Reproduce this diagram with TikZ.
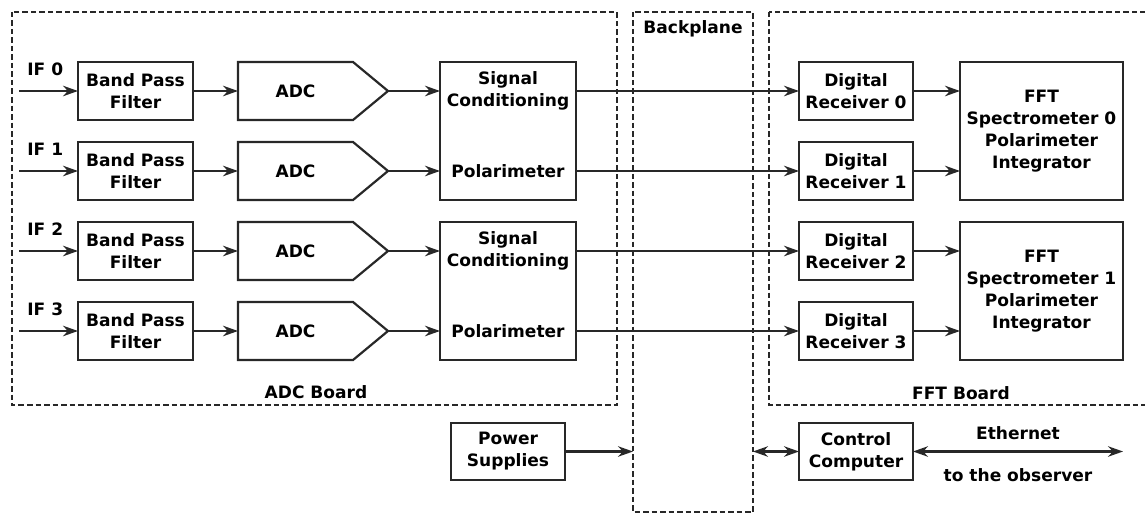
\documentclass[tikz,border=0pt]{standalone}
\usepackage{fontspec}
\setmainfont{DejaVu Sans}
\usepackage{tikz}
\usetikzlibrary{arrows.meta, positioning, calc}
\definecolor{linecol}{RGB}{40, 40, 40}

\begin{document}
\begin{tikzpicture}[
        node distance=0.44cm and 0.9cm,
        font=\bfseries\fontsize{9.7}{12.5}\selectfont,
        box/.style={rectangle, draw=linecol, line width=1.25pt, align=center, minimum height=1.16cm, minimum width=2.3cm, inner sep=1pt, outer sep=0pt},
        bigbox/.style={box, minimum height=2.76cm},
        adcbody/.style={rectangle, align=center, minimum height=1.16cm, minimum width=2.3cm, inner sep=0pt, outer sep=0pt},
        adcline/.style={draw=linecol, line width=1.25pt, line join=miter},
        board/.style={draw=linecol, line width=1.25pt, dash pattern=on 1.1mm off 0.6mm},
        arrow/.style={-{Stealth[length=3mm, width=2.1mm]}, line width=1.25pt, draw=linecol},
        twoway/.style={{Stealth[length=3mm, width=2.1mm]}-{Stealth[length=3mm, width=2.1mm]}, line width=1.25pt, draw=linecol}
    ]
    \useasboundingbox (0,0) rectangle (22.9,-10.28);

    % Boards and backplane
    \draw[board] (0.24,-0.24) rectangle (12.34,-8.1);
    \draw[board] (12.66,-0.24) rectangle (15.06,-10.24);
    \draw[board] (15.38,-0.24) rectangle (23.1,-8.1);
    \node (adcboard) at (6.32,-7.84) {ADC Board};
    \node (backplane) at (13.86,-0.58) {Backplane};
    \node (fftboard) at (19.22,-7.86) {FFT Board};

    % Band pass filters
    \node[box] (bpf0) at (2.71,-1.82) {Band Pass\\Filter};
    \node[box, below=of bpf0] (bpf1) {Band Pass\\Filter};
    \node[box, below=of bpf1] (bpf2) {Band Pass\\Filter};
    \node[box, below=of bpf2] (bpf3) {Band Pass\\Filter};

    % IF inputs
    \coordinate (in0) at ([xshift=-1.18cm]bpf0.west);
    \coordinate (in1) at ([xshift=-1.18cm]bpf1.west);
    \coordinate (in2) at ([xshift=-1.18cm]bpf2.west);
    \coordinate (in3) at ([xshift=-1.18cm]bpf3.west);
    \node[anchor=south west, inner sep=0pt] (if0) at ([shift={(0.16,0.3)}]in0) {IF 0};
    \node[anchor=south west, inner sep=0pt] (if1) at ([shift={(0.16,0.3)}]in1) {IF 1};
    \node[anchor=south west, inner sep=0pt] (if2) at ([shift={(0.16,0.3)}]in2) {IF 2};
    \node[anchor=south west, inner sep=0pt] (if3) at ([shift={(0.16,0.3)}]in3) {IF 3};

    % ADCs
    \node[adcbody, right=of bpf0] (adc0) {ADC};
    \node[adcbody, right=of bpf1] (adc1) {ADC};
    \node[adcbody, right=of bpf2] (adc2) {ADC};
    \node[adcbody, right=of bpf3] (adc3) {ADC};
    \draw[adcline] (adc0.north west) -- (adc0.north east) -- ([xshift=0.7cm]adc0.east) coordinate (adc0tip) -- (adc0.south east) -- (adc0.south west) -- cycle;
    \draw[adcline] (adc1.north west) -- (adc1.north east) -- ([xshift=0.7cm]adc1.east) coordinate (adc1tip) -- (adc1.south east) -- (adc1.south west) -- cycle;
    \draw[adcline] (adc2.north west) -- (adc2.north east) -- ([xshift=0.7cm]adc2.east) coordinate (adc2tip) -- (adc2.south east) -- (adc2.south west) -- cycle;
    \draw[adcline] (adc3.north west) -- (adc3.north east) -- ([xshift=0.7cm]adc3.east) coordinate (adc3tip) -- (adc3.south east) -- (adc3.south west) -- cycle;

    % Signal conditioning / polarimeter
    \node[bigbox, minimum width=2.72cm] (sc0) at (10.16,-2.62) {};
    \node[bigbox, minimum width=2.72cm] (sc1) at (10.16,-5.82) {};
    \node[align=center] (sig0) at (sc0 |- bpf0) {Signal\\Conditioning};
    \node (pol0) at (sc0 |- bpf1) {Polarimeter};
    \node[align=center] (sig1) at (sc1 |- bpf2) {Signal\\Conditioning};
    \node (pol1) at (sc1 |- bpf3) {Polarimeter};

    % Digital receivers
    \node[box, minimum width=2.28cm] (dr0) at (17.12,-1.82) {Digital\\Receiver 0};
    \node[box, minimum width=2.28cm, below=of dr0] (dr1) {Digital\\Receiver 1};
    \node[box, minimum width=2.28cm, below=of dr1] (dr2) {Digital\\Receiver 2};
    \node[box, minimum width=2.28cm, below=of dr2] (dr3) {Digital\\Receiver 3};

    % FFT spectrometers
    \node[bigbox, minimum width=3.26cm] (fft0) at (20.83,-2.62) {FFT\\Spectrometer 0\\Polarimeter\\Integrator};
    \node[bigbox, minimum width=3.26cm] (fft1) at (20.83,-5.82) {FFT\\Spectrometer 1\\Polarimeter\\Integrator};

    % Power and control
    \node[box, minimum width=2.28cm, minimum height=1.14cm] (power) at (10.16,-9.03) {Power\\Supplies};
    \node[box, minimum width=2.28cm, minimum height=1.14cm] (ctrl) at (17.12,-9.03) {Control\\Computer};
    \coordinate (net) at (22.46,-9.03);
    \node (eth) at (20.36,-8.66) {Ethernet};
    \node (obs) at (20.36,-9.5) {to the observer};

    % Arrows
    \draw[arrow] (in0) -- (bpf0.west);
    \draw[arrow] (in1) -- (bpf1.west);
    \draw[arrow] (in2) -- (bpf2.west);
    \draw[arrow] (in3) -- (bpf3.west);

    \draw[arrow] (bpf0.east) -- (adc0.west);
    \draw[arrow] (bpf1.east) -- (adc1.west);
    \draw[arrow] (bpf2.east) -- (adc2.west);
    \draw[arrow] (bpf3.east) -- (adc3.west);

    \draw[arrow] (adc0tip) -- (adc0tip -| sc0.west);
    \draw[arrow] (adc1tip) -- (adc1tip -| sc0.west);
    \draw[arrow] (adc2tip) -- (adc2tip -| sc1.west);
    \draw[arrow] (adc3tip) -- (adc3tip -| sc1.west);

    \draw[arrow] (sc0.east |- dr0.west) -- (dr0.west);
    \draw[arrow] (sc0.east |- dr1.west) -- (dr1.west);
    \draw[arrow] (sc1.east |- dr2.west) -- (dr2.west);
    \draw[arrow] (sc1.east |- dr3.west) -- (dr3.west);

    \draw[arrow] (dr0.east) -- (dr0.east -| fft0.west);
    \draw[arrow] (dr1.east) -- (dr1.east -| fft0.west);
    \draw[arrow] (dr2.east) -- (dr2.east -| fft1.west);
    \draw[arrow] (dr3.east) -- (dr3.east -| fft1.west);

    \draw[arrow] (power.east) -- (power.east -| 12.66,0);
    \draw[twoway] (ctrl.west -| 15.06,0) -- (ctrl.west);
    \draw[twoway] (ctrl.east) -- (net);

\end{tikzpicture}
\end{document}
